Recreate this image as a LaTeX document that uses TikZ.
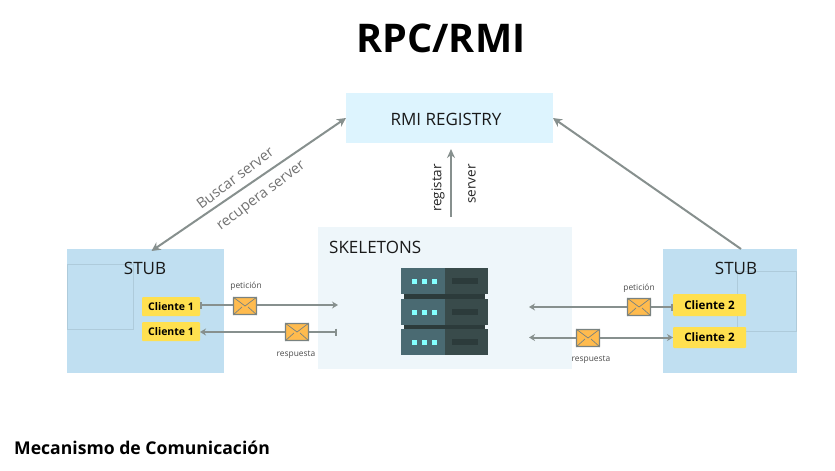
\documentclass[tikz,border=0pt]{standalone}
\usepackage{fontspec}
\setmainfont{Open Sans}
\usetikzlibrary{arrows.meta,calc}
\definecolor{linegray}{HTML}{87908E}
\definecolor{stubblue}{HTML}{C0DFF1}
\definecolor{regblue}{HTML}{DDF4FE}
\definecolor{skelblue}{HTML}{EEF6FA}
\definecolor{clientyellow}{HTML}{FFE04F}
\definecolor{envorange}{HTML}{FFBB4E}
\definecolor{rackleft}{HTML}{4A6A72}
\definecolor{rackright}{HTML}{394B4B}
\definecolor{rackdark}{HTML}{2C3B3B}
\definecolor{rackled}{HTML}{84FFFF}
\definecolor{framegray}{HTML}{AECBDB}
\newcommand{\envelope}[3]{%
    \node (#1) at (#2,#3) [envbox]{};
    \draw[envflap] (#1.north west) -- (#1.center) -- (#1.north east);
    \draw[envflap] (#1.south west) -- ($(#1.center)+(-3,1)$);
    \draw[envflap] (#1.south east) -- ($(#1.center)+(3,1)$);
}
\newcommand{\rackslab}[1]{%
    \fill[rackleft] (401,#1) rectangle (445,#1+26);
    \fill[rackright] (445,#1) rectangle (488,#1+26);
    \fill[rackdark] (452,#1+10) rectangle (478,#1+16);
    \foreach \ledx in {414,424,434}
        \fill[rackled] (\ledx-2.5,#1+10.5) rectangle (\ledx+2.5,#1+15.5);
}
\begin{document}
\begin{tikzpicture}[x=1pt, y=-1pt,
    client/.style = {fill=clientyellow, rounded corners=1pt, inner sep=0pt, outer sep=0pt, font=\fontsize{#1}{12}\bfseries},
    envbox/.style = {draw=linegray!90!black, line width=1.2pt, fill=envorange, rounded corners=1pt, minimum width=23pt, minimum height=17pt, inner sep=0pt},
    envflap/.style = {draw=linegray!90!black, line width=0.7pt},
    wire/.style = {draw=linegray, line width=2pt},
    note/.style = {font=\fontsize{8.4}{9}\selectfont, text=black!70},
    lean/.style = {font=\fontsize{14.5}{16}\selectfont, text=black!55, rotate=37},
    upright/.style = {font=\fontsize{13.5}{15}\selectfont, text=black!85, rotate=90},
    heading/.style = {font=\fontsize{17}{19}\selectfont, text=black!90}]
    \useasboundingbox (0,0) rectangle (835,471);
    \fill[white] (0,0) rectangle (835,471);

    \node (title) at (441,38) {\fontsize{39.5}{44}\bfseries RPC/RMI};
    \node (caption) at (14,448) [right, inner sep=0pt]{\fontsize{17.6}{20}\bfseries Mecanismo de Comunicación};

    % boxes
    \node (registry) at (449.5,118) [fill=regblue, minimum width=207pt, minimum height=50pt, inner sep=0pt, outer sep=0pt]{};
    \node at (446,119) [heading]{RMI REGISTRY};
    \node (skeletons) at (445,298) [fill=skelblue, minimum width=254pt, minimum height=142pt, inner sep=0pt, outer sep=0pt]{};
    \node at (329,247) [right, inner sep=0pt, heading]{SKELETONS};
    \node (stubleft) at (145.5,311) [fill=stubblue, minimum width=157pt, minimum height=124pt, inner sep=0pt, outer sep=0pt]{};
    \node (stubright) at (730,311) [fill=stubblue, minimum width=134pt, minimum height=124pt, inner sep=0pt, outer sep=0pt]{};
    \draw[framegray, line width=0.8pt] (67.5,264) rectangle (133,329);
    \draw[framegray, line width=0.8pt] (737,271) rectangle (796.5,331);
    \node at (145,268) [heading]{STUB};
    \node at (736,268) [heading]{STUB};

    % server rack
    \fill[rackdark] (404,294) rectangle (485,299);
    \fill[rackdark] (404,325) rectangle (485,330);
    \rackslab{268}
    \rackslab{299}
    \rackslab{329}

    % clients
    \node (clientea) at (171,306.5) [client=10.5, minimum width=58pt, minimum height=19pt]{Cliente 1};
    \node (clienteb) at (171,331.5) [client=10.5, minimum width=58pt, minimum height=19pt]{Cliente 1};
    \node (clientec) at (709.5,305) [client=11.6, minimum width=73pt, minimum height=22pt]{Cliente 2};
    \node (cliented) at (709.5,337.5) [client=11.6, minimum width=73pt, minimum height=21pt]{Cliente 2};

    % free ends
    \coordinate (skelin) at (338,305);
    \coordinate (skelout) at (337,332);
    \coordinate (rackin) at (529,307);
    \coordinate (rackout) at (529,337.5);
    \coordinate (stubtop) at (741,249);
    \coordinate (regbase) at (451,217);
    \coordinate (regtip) at (451,149);

    % connectors
    \draw[wire, {Stealth[length=9pt,width=9pt]}-{Stealth[length=9pt,width=9pt]}] (stubleft.north) ++(6,2) -- (registry.west);
    \draw[wire, -{Stealth[length=9pt,width=9pt]}] (stubtop) -- (registry.east);
    \draw[wire, -{Stealth[length=9pt,width=8pt]}] (regbase) -- (regtip);
    \draw[wire, {Bar[width=7pt,length=1.2pt]}-{Stealth[length=6pt,width=7pt]}] (clientea.east |- skelin) -- (skelin);
    \draw[wire, {Bar[width=7pt,length=1.2pt]}-{Stealth[length=6pt,width=7pt]}] (skelout) -- (clienteb.east |- skelout);
    \draw[wire, {Bar[width=7pt,length=1.2pt]}-{Stealth[length=6pt,width=7pt]}] (clientec.west |- rackin) -- (rackin);
    \draw[wire, {Stealth[length=6pt,width=7pt]}-{Stealth[length=6pt,width=7pt]}] (rackout) -- (cliented.west);

    % envelopes
    \envelope{peticiona}{245}{306}
    \envelope{respuestaa}{297}{332}
    \envelope{peticionb}{639}{307}
    \envelope{respuestab}{588}{338}

    % labels
    \node at (246,286) [note]{petición};
    \node at (296,355) [note]{respuesta};
    \node at (639,288) [note]{petición};
    \node at (591,360) [note]{respuesta};
    \node at (235,178) [lean]{Buscar server};
    \node at (262,197) [lean]{recupera server};
    \node at (438,188) [upright]{registar};
    \node at (472,184) [upright]{server};
\end{tikzpicture}
\end{document}
